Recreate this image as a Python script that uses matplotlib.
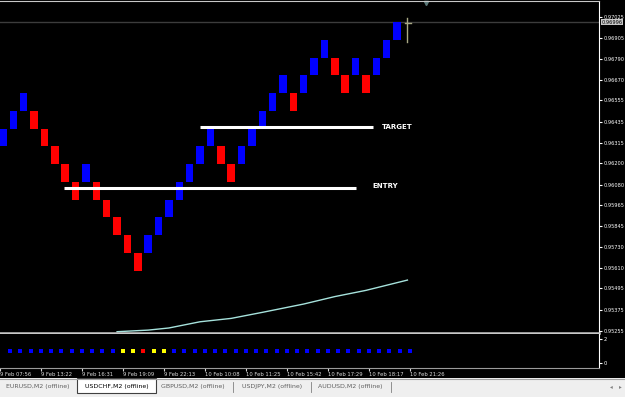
import matplotlib
matplotlib.use('Agg')
import matplotlib.pyplot as plt
from matplotlib.patches import Rectangle

# renko bricks: bottom level of each brick (brick size 0.0010) and direction
base_price = 0.95596
brick = 0.0010
levels = [7, 8, 9, 8, 7, 6, 5, 4, 5, 4, 3, 2, 1, 0, 1, 2, 3, 4, 5, 6,
          7, 6, 5, 6, 7, 8, 9, 10, 9, 10, 11, 12, 11, 10, 11, 10, 11, 12, 13]
dirs = ['u', 'u', 'u', 'd', 'd', 'd', 'd', 'd', 'u', 'd', 'd', 'd', 'd', 'd',
        'u', 'u', 'u', 'u', 'u', 'u', 'u', 'd', 'd', 'u', 'u', 'u', 'u', 'u',
        'd', 'u', 'u', 'u', 'd', 'd', 'u', 'd', 'u', 'u', 'u']

# moving average (column, price)
ma_cols = [12, 15, 17, 20, 23, 26, 30, 33, 36, 40]
ma_vals = [0.95251, 0.95260, 0.95272, 0.95307, 0.95326, 0.95360, 0.95407,
           0.95449, 0.95484, 0.95542]

# indicator dots (value 1 on each column)
dot_colors = ['b'] * 11 + ['y', 'y', 'r', 'y', 'y'] + ['b'] * 24

# current bar cross
cur_col = 40
cur_low, cur_high, cur_close = 0.96884, 0.97019, 0.96991
bid = 0.96996

# entry / target lines
target_price, target_from, target_to = 0.96405, 20.0, 36.7
entry_price, entry_from, entry_to = 0.96063, 6.9, 35.0

price_ticks = [0.97025, 0.96905, 0.96790, 0.96670, 0.96555, 0.96435, 0.96315,
               0.96200, 0.96080, 0.95965, 0.95845, 0.95730, 0.95610, 0.95495,
               0.95375, 0.95255]
time_cols = [0, 4, 8, 12, 16, 20, 24, 28, 32, 36, 40]
time_labels = ['9 Feb 07:56', '9 Feb 13:22', '9 Feb 16:31', '9 Feb 19:09',
               '9 Feb 22:13', '10 Feb 10:08', '10 Feb 11:25', '10 Feb 15:42',
               '10 Feb 17:29', '10 Feb 18:17', '10 Feb 21:26']
tabs = ['EURUSD,M2 (offline)', 'USDCHF,M2 (offline)', 'GBPUSD,M2 (offline)',
        'USDJPY,M2 (offline)', 'AUDUSD,M2 (offline)']

W, H = 625, 397
CW, X1 = 10.37, 3.0          # px per column, px of column 1
PX_PER, REF_P, REF_Y = 17739, 0.96905, 38.3


def box(l, t, r, b):
    return [l / W, 1 - b / H, (r - l) / W, (b - t) / H]


def px_to_price(y):
    return REF_P - (y - REF_Y) / PX_PER


xlim = (1 - X1 / CW, 1 + (599 - X1) / CW)

fig = plt.figure(figsize=(W / 100, H / 100), dpi=100, facecolor='black')

# main chart
ax = fig.add_axes(box(0, 1, 599, 333), facecolor='black')
ax.set_xlim(*xlim)
ax.set_ylim(px_to_price(333), px_to_price(1))

cols = list(range(1, len(levels) + 1))
for c, lv, d in zip(cols, levels, dirs):
    ax.bar(c, brick, bottom=base_price + lv * brick, width=0.72,
           color='#0000ff' if d == 'u' else '#ff0000', linewidth=0)

ax.axhline(bid, color='#3c3c3c', lw=1, zorder=0)
ax.plot(ma_cols, ma_vals, color='#a6e2dc', lw=1, clip_on=True)
ax.plot([cur_col, cur_col], [cur_low, cur_high], color='#a8a884', lw=1)
ax.plot([cur_col - 0.2, cur_col + 0.35], [cur_close, cur_close], color='#a8a884', lw=1)

ax.plot([target_from, target_to], [target_price, target_price], color='white', lw=2.2,
        solid_capstyle='butt')
ax.plot([entry_from, entry_to], [entry_price, entry_price], color='white', lw=2.2,
        solid_capstyle='butt')
ax.text(37.5, target_price + 0.00002, 'TARGET', color='white', fontsize=5,
        fontweight='bold', va='center', ha='left')
ax.text(36.6, entry_price + 0.00012, 'ENTRY', color='white', fontsize=5,
        fontweight='bold', va='center', ha='left')

ax.plot([41.8], [px_to_price(3)], marker='v', ms=3, color='#5a7878', clip_on=False)

ax.yaxis.tick_right()
ax.set_yticks(price_ticks)
ax.set_yticklabels(['%.5f' % p for p in price_ticks])
ax.tick_params(axis='y', colors='white', labelsize=3.6, length=2, pad=1)
ax.set_xticks([])
ax.spines['left'].set_visible(False)
ax.spines['right'].set_color('white')
ax.spines['top'].set_color('#c8c8c8')
ax.spines['top'].set_linewidth(0.8)
ax.spines['bottom'].set_color('#c8c8c8')
ax.spines['bottom'].set_linewidth(1.8)

ax.text(1.004, bid, '%.5f' % bid, transform=ax.get_yaxis_transform(), fontsize=3.6,
        color='black', va='center', ha='left',
        bbox=dict(boxstyle='square,pad=0.12', fc='#c8c8c8', ec='none'))

# indicator panel
ax2 = fig.add_axes(box(0, 334, 599, 368), facecolor='black')
ax2.set_xlim(*xlim)
ax2.set_ylim(-0.417, 2.417)
cmap = {'b': '#0000ff', 'y': '#ffff00', 'r': '#ff0000'}
for c, k in zip(range(1, len(dot_colors) + 1), dot_colors):
    ax2.plot(c, 1, marker='s', ms=3, color=cmap[k], mew=0)
ax2.yaxis.tick_right()
ax2.set_yticks([0, 2])
ax2.tick_params(axis='y', colors='white', labelsize=3.8, length=2, pad=1)
ax2.set_xticks(time_cols)
ax2.set_xticklabels(time_labels)
ax2.tick_params(axis='x', colors='#d8d8d8', labelsize=3.8, length=2, pad=1.2)
for lbl in ax2.get_xticklabels():
    lbl.set_ha('left')
ax2.spines['left'].set_visible(False)
ax2.spines['top'].set_visible(False)
ax2.spines['right'].set_color('white')
ax2.spines['bottom'].set_color('#9a9a9a')

# tab bar
tb = fig.add_axes(box(0, 378, 625, 397))
tb.set_xlim(0, W)
tb.set_ylim(397, 378)
tb.axis('off')
tb.add_patch(Rectangle((0, 378), W, 19, fc='#efefef', ec='none'))
tb.plot([0, W], [378.5, 378.5], color='#a0a0a0', lw=0.8)
tb.add_patch(Rectangle((77, 378), 79, 14.5, fc='white', ec='#404040', lw=0.8))
tab_x = [37.5, 116.5, 193, 272, 350]
for i, (t, x) in enumerate(zip(tabs, tab_x)):
    tb.text(x, 386.5, t, fontsize=4.5, ha='center', va='center',
            color='black' if i == 1 else '#606060')
for x in [233, 311, 391]:
    tb.plot([x, x], [382, 392], color='#808080', lw=0.6)
tb.text(611, 387, '\u25c2', fontsize=4, color='#808080', ha='center', va='center')
tb.text(620, 387, '\u25b8', fontsize=4, color='#808080', ha='center', va='center')

fig.savefig('out.png', dpi=100, facecolor='black')
